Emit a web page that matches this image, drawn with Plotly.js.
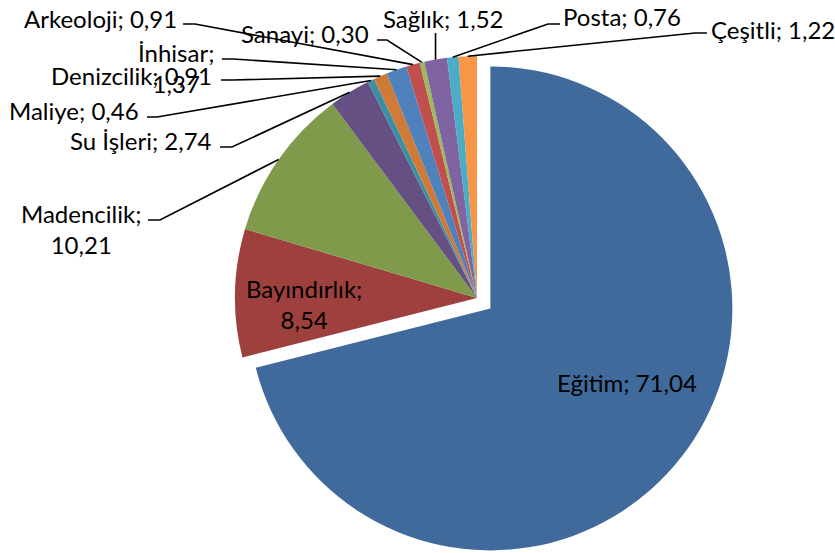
<!DOCTYPE html>
<html>
<head>
<meta charset="utf-8">
<script src="https://cdn.plot.ly/plotly-3.0.1.min.js"></script>
<style>
html, body { margin:0; padding:0; width:835px; height:553px; overflow:hidden; background:#fff; }
#wrap { width:835px; height:553px; overflow:hidden; position:relative; }
#chart { width:835px; height:600px; position:absolute; left:0; top:0; }
</style>
</head>
<body>
<div id="wrap"><div id="chart"></div></div>
<script>
// ---- data ----
const categories = ["Eğitim", "Bayındırlık", "Madencilik", "Su İşleri", "Maliye", "Denizcilik",
                    "İnhisar", "Arkeoloji", "Sanayi", "Sağlık", "Posta", "Çeşitli"];
const values = [71.04, 8.54, 10.21, 2.74, 0.46, 0.91, 1.37, 0.91, 0.30, 1.52, 0.76, 1.22];
const valueLabels = ["71,04", "8,54", "10,21", "2,74", "0,46", "0,91", "1,37", "0,91", "0,30", "1,52", "0,76", "1,22"];
const colors = ["#406A9B", "#9E413E", "#7F9A4A", "#654F83", "#3A8FA5", "#CF7A37",
                "#4F81BD", "#C0504D", "#9BBB59", "#8064A2", "#4BACC6", "#F79646"];
const pulls = [0.07, 0, 0, 0, 0, 0, 0, 0, 0, 0, 0, 0];

// ---- layout geometry (pixels) ----
const W = 835, H = 600;
const CX = 477, CY = 298, R = 242;
const maxPull = Math.max(...pulls);
const S = 2 * R * (1 + maxPull);
const domX = [(CX - S / 2) / W, (CX + S / 2) / W];
const domY = [(H - (CY + S / 2)) / H, (H - (CY - S / 2)) / H];

// label placement
const labelPos = {
  "Eğitim":      {x: 627, y: 382, anchor: "center", br: false, lead: null},
  "Bayındırlık": {x: 304, y: 304, anchor: "center", br: true,  lead: null},
  "Madencilik":  {x: 81,  y: 229, anchor: "center", br: true,  lead: [[148, 220], [160, 220]]},
  "Su İşleri":   {x: 214, y: 140, anchor: "right",  br: false, lead: [[220, 147], [232, 147]]},
  "Maliye":      {x: 141, y: 110, anchor: "right",  br: false, lead: [[147, 117], [157, 117]]},
  "Denizcilik":  {x: 214, y: 75,  anchor: "right",  br: false, lead: [[221, 80], [233, 80]]},
  "İnhisar":     {x: 176, y: 68,  anchor: "center", br: true,  lead: [[222, 59], [233, 59]]},
  "Arkeoloji":   {x: 179, y: 18,  anchor: "right",  br: false, lead: [[183, 24], [195, 24]]},
  "Sanayi":      {x: 371, y: 33,  anchor: "right",  br: false, lead: [[377, 40], [387, 40]]},
  "Sağlık":      {x: 443, y: 19,  anchor: "center", br: false, lead: [[null, 33]]},
  "Posta":       {x: 561, y: 17,  anchor: "left",   br: false, lead: [[560, 24], [548, 24]]},
  "Çeşitli":     {x: 709, y: 29,  anchor: "left",   br: false, lead: [[707, 33], [695, 33]]}
};

const total = values.reduce((a, b) => a + b, 0);
const annotations = [];
const shapes = [];
const FONT = {family: "Lato, 'Open Sans', sans-serif", size: 24, color: "#000"};
let cum = 0;
values.forEach((v, i) => {
  const mid = (cum + v / 2) / total * 2 * Math.PI;
  cum += v;
  const name = categories[i];
  const p = labelPos[name];
  const txt = name + ";" + (p.br ? "<br>" : " ") + valueLabels[i];
  annotations.push({
    x: p.x / W, y: 1 - p.y / H, xref: "paper", yref: "paper",
    text: txt, showarrow: false, xanchor: p.anchor, yanchor: "middle",
    align: "center", font: FONT
  });
  if (p.lead) {
    const ex = CX + R * Math.sin(mid), ey = CY - R * Math.cos(mid);
    const pts = p.lead.map(q => [q[0] === null ? ex : q[0], q[1]]).concat([[ex, ey]]);
    const path = pts.map((q, k) => (k ? "L" : "M") + (q[0] / W).toFixed(5) + "," + (1 - q[1] / H).toFixed(5)).join(" ");
    shapes.push({type: "path", xref: "paper", yref: "paper", path: path,
                 line: {color: "#000", width: 1.6}});
  }
});

const trace = {
  type: "pie",
  labels: categories,
  values: values,
  sort: false,
  direction: "clockwise",
  rotation: 0,
  pull: pulls,
  textinfo: "none",
  hoverinfo: "label+value",
  marker: {colors: colors, line: {width: 0}},
  domain: {x: domX, y: domY},
  showlegend: false
};

Plotly.newPlot("chart", [trace], {
  width: W, height: H,
  margin: {l: 0, r: 0, t: 0, b: 0},
  paper_bgcolor: "#fff",
  showlegend: false,
  annotations: annotations,
  shapes: shapes
}, {staticPlot: true});
</script>
</body>
</html>
